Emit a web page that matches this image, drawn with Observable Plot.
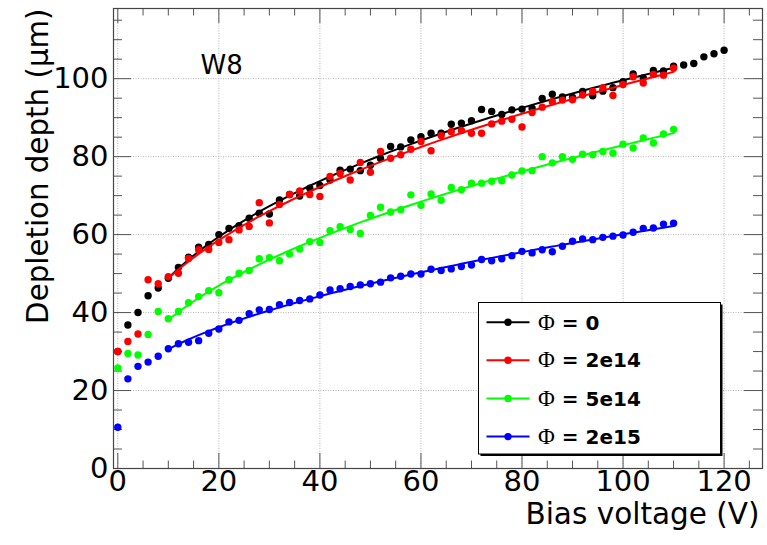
<!DOCTYPE html>
<html>
<head>
<meta charset="utf-8">
<script src="https://cdn.jsdelivr.net/npm/d3@7"></script>
<script src="https://cdn.jsdelivr.net/npm/@observablehq/plot@0.6"></script>
<style>
  html, body { margin: 0; padding: 0; background: #fff; }
  svg { display: block; }
</style>
</head>
<body>
<div id="chart"></div>
<script>
// ---- data ----
const voltages = [0,2,4,6,8,10,12,14,16,18,20,22,24,26,28,30,32,34,36,38,40,42,44,46,48,50,
  52,54,56,58,60,62,64,66,68,70,72,74,76,78,80,82,84,86,88,90,92,94,96,98,100,102,104,106,108,110,
  112,114,116,118,120];

const depthPhi0 = [30.0,36.8,40.0,44.3,46.3,48.8,51.6,54.2,56.8,57.5,60.0,61.6,62.3,64.2,65.5,65.3,
  68.9,70.3,69.9,71.9,72.6,74.0,76.5,76.8,76.4,77.8,79.5,82.6,82.5,84.3,85.1,86.0,86.0,88.3,88.6,89.2,
  92.1,91.6,90.8,92.0,92.2,92.4,94.9,96.0,95.3,95.2,96.7,95.6,96.8,97.7,99.2,101.2,100.2,102.1,102.0,
  103.2,103.5,103.9,105.6,106.4,107.3];

const depthPhi2e14 = [30.0,32.6,34.5,48.4,47.4,49.2,50.1,53.9,56.1,56.2,58.0,58.7,61.2,62.1,68.2,63.0,
  67.7,70.3,71.2,70.3,69.8,74.9,75.7,74.0,78.5,76.0,81.3,79.6,80.5,81.9,83.9,81.5,85.4,86.4,86.7,86.0,
  86.0,88.4,89.1,89.6,87.6,91.3,92.7,94.1,94.5,94.6,95.8,96.7,97.7,95.7,98.5,100.5,98.9,101.1,100.9,102.7];

const depthPhi5e14 = [25.8,29.5,29.1,34.4,40.3,38.4,40.3,42.5,44.1,45.6,45.1,48.4,50.1,50.8,53.8,54.1,
  53.3,55.0,56.3,58.2,58.0,61.0,62.0,61.3,60.3,64.9,67.0,65.8,66.4,70.2,67.5,70.4,68.8,72.1,71.5,73.2,
  73.2,73.7,73.8,75.3,76.3,76.4,80.0,78.4,80.0,79.3,80.6,80.5,81.3,80.9,83.2,82.2,84.8,83.5,85.8,87.0];

const depthPhi2e15 = [10.6,23.0,26.2,27.3,28.8,30.7,32.0,32.4,32.8,34.7,35.8,37.6,38.0,39.7,40.7,40.8,
  42.0,42.6,43.1,43.5,44.5,45.8,46.1,46.7,47.1,47.4,47.8,48.9,49.3,49.9,49.9,51.1,50.8,51.2,51.8,52.2,
  53.6,53.3,53.8,54.6,55.7,55.3,56.1,55.6,57.0,58.3,58.9,58.7,59.3,59.6,59.9,60.6,61.6,61.7,62.7,62.9];

const seriesNames = ["Φ = 0", "Φ = 2e14", "Φ = 5e14", "Φ = 2e15"];
const seriesColors = ["#000000", "#ff0000", "#00ff00", "#0000ff"];
const seriesDepths = [depthPhi0, depthPhi2e14, depthPhi5e14, depthPhi2e15];

const xTickLabels = [0, 20, 40, 60, 80, 100, 120];
const yTickLabels = [0, 20, 40, 60, 80, 100];
const xMinorTicks = [5,10,15,25,30,35,45,50,55,65,70,75,85,90,95,105,110,115,125];
const yMinorTicks = [5,10,15,25,30,35,45,50,55,65,70,75,85,90,95,105,110,115];

const fitRange = [10, 110];

// ---- build table ----
const points = [];
seriesDepths.forEach((arr, s) => arr.forEach((d, i) => points.push({s, V: voltages[i], d})));

// least-squares fit d = a + b*sqrt(V) + c*V over the fit range
function fitSeries(s) {
  const pts = points.filter(p => p.s === s && p.V >= fitRange[0] && p.V <= fitRange[1]);
  const basis = v => [1, Math.sqrt(v), v];
  const A = [[0,0,0],[0,0,0],[0,0,0]], B = [0,0,0];
  for (const p of pts) {
    const f = basis(p.V);
    for (let i = 0; i < 3; i++) { B[i] += f[i] * p.d; for (let j = 0; j < 3; j++) A[i][j] += f[i] * f[j]; }
  }
  for (let i = 0; i < 3; i++) {
    for (let k = i + 1; k < 3; k++) {
      const m = A[k][i] / A[i][i];
      for (let j = i; j < 3; j++) A[k][j] -= m * A[i][j];
      B[k] -= m * B[i];
    }
  }
  const c = [0,0,0];
  for (let i = 2; i >= 0; i--) {
    let sum = B[i];
    for (let j = i + 1; j < 3; j++) sum -= A[i][j] * c[j];
    c[i] = sum / A[i][i];
  }
  return pts.map(p => ({s, V: p.V, d: basis(p.V).reduce((acc, f, i) => acc + f * c[i], 0)}));
}

const W = 767, H = 545;
const mL = 113, mR = 5, mT = 8, mB = 77;
const innerW = W - mL - mR, innerH = H - mT - mB;
const FONT = "DejaVu Sans";

const marks = [
  // grid
  Plot.ruleX(xTickLabels, {x: d => d, stroke: "#b4b4b4", strokeDasharray: "1,1.5", strokeWidth: 1}),
  Plot.ruleY(yTickLabels, {y: d => d, stroke: "#b4b4b4", strokeDasharray: "1,1.5", strokeWidth: 1}),
  // ticks (inward, all four sides)
  Plot.ruleX(xTickLabels, {x: d => d, insetTop: innerH - 15, stroke: "#555"}),
  Plot.ruleX(xTickLabels, {x: d => d, insetBottom: innerH - 15, stroke: "#555"}),
  Plot.ruleX(xMinorTicks, {x: d => d, insetTop: innerH - 7.5, stroke: "#555"}),
  Plot.ruleX(xMinorTicks, {x: d => d, insetBottom: innerH - 7.5, stroke: "#555"}),
  Plot.ruleY(yTickLabels, {y: d => d, insetRight: innerW - 18, stroke: "#555"}),
  Plot.ruleY(yTickLabels, {y: d => d, insetLeft: innerW - 18, stroke: "#555"}),
  Plot.ruleY(yMinorTicks, {y: d => d, insetRight: innerW - 9, stroke: "#555"}),
  Plot.ruleY(yMinorTicks, {y: d => d, insetLeft: innerW - 9, stroke: "#555"}),
  Plot.frame({stroke: "#444", strokeWidth: 1.2}),
  // tick labels
  Plot.text(xTickLabels, {x: d => d, text: d => String(d), frameAnchor: "bottom", dy: 22,
    fontSize: 29, fontFamily: FONT, fill: "#000"}),
  Plot.text(yTickLabels, {y: d => d, text: d => String(d), frameAnchor: "left", textAnchor: "end",
    dx: -5, fontSize: 29, fontFamily: FONT, fill: "#000"}),
  // axis titles
  Plot.text(["Bias voltage (V)"], {text: d => d, frameAnchor: "bottom-right", textAnchor: "end",
    dx: -3, dy: 55, fontSize: 29.5, fontFamily: FONT, fill: "#000"}),
  Plot.text(["Depletion depth (μm)"], {text: d => d, frameAnchor: "top-left", textAnchor: "end",
    rotate: -90, dx: -86, dy: 0, fontSize: 29.3, fontFamily: FONT, fill: "#000"}),
  Plot.text(["W8"], {text: d => d, frameAnchor: "top-left", textAnchor: "start",
    dx: 87, dy: 47, fontSize: 26, fontFamily: FONT, fill: "#000"})
];

seriesDepths.forEach((_, s) => {
  marks.push(Plot.dot(points.filter(p => p.s === s), {x: "V", y: "d", r: 3.7, fill: seriesColors[s], stroke: "none"}));
  marks.push(Plot.line(fitSeries(s), {x: "V", y: "d", stroke: seriesColors[s], strokeWidth: 2, curve: "monotone-x"}));
});

const svg = Plot.plot({
  width: W, height: H,
  marginLeft: mL, marginRight: mR, marginTop: mT, marginBottom: mB,
  x: {domain: [-0.85, 127.6], axis: null},
  y: {domain: [0, 118], axis: null},
  style: {background: "#fff", fontFamily: FONT, overflow: "visible"},
  marks
});
document.getElementById("chart").appendChild(svg);

// ---- legend (ROOT style box with shadow) ----
const g = d3.select(svg).append("g").attr("text-anchor", "start");
const lx = 478.5, ly = 302.5, lw = 242, lh = 151.5;
g.append("rect").attr("x", lx + 2).attr("y", ly + 2).attr("width", lw).attr("height", lh).attr("fill", "#000");
g.append("rect").attr("x", lx).attr("y", ly).attr("width", lw).attr("height", lh)
  .attr("fill", "#fff").attr("stroke", "#000").attr("stroke-width", 1);
const rowY = [322.3, 360.2, 398.4, 436.6];
seriesNames.forEach((name, i) => {
  const y = rowY[i];
  g.append("line").attr("x1", 486.5).attr("x2", 529.5).attr("y1", y).attr("y2", y)
    .attr("stroke", seriesColors[i]).attr("stroke-width", 2);
  g.append("circle").attr("cx", 508).attr("cy", y).attr("r", 3.7).attr("fill", seriesColors[i]);
  const t = g.append("text").attr("x", 538).attr("y", y).attr("dy", "0.36em")
    .attr("text-anchor", "start")
    .attr("font-family", FONT).attr("font-size", 20).attr("font-weight", "bold").attr("fill", "#000");
  t.append("tspan").attr("font-family", "Liberation Serif").attr("font-weight", "normal")
    .attr("font-size", 23).text(name.slice(0, 1));
  t.append("tspan").text(name.slice(1));
});
</script>
</body>
</html>
